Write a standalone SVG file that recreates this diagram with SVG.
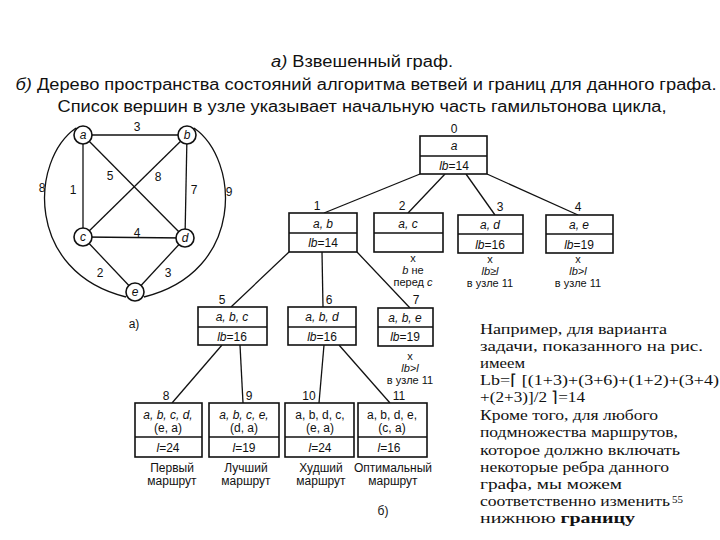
<svg xmlns="http://www.w3.org/2000/svg" width="720" height="540" viewBox="0 0 720 540">
<style>
.title{font-family:"Liberation Sans Narrow","Liberation Sans",Arial,sans-serif;font-size:16px;fill:#111}
.ln{stroke:#111;stroke-width:1.3;fill:none}
.nd{fill:#fff;stroke:#111;stroke-width:1.6}
.box{fill:#fff;stroke:#111;stroke-width:1.6}
.t{font-family:"Liberation Sans",Arial,sans-serif;font-size:12px;fill:#111;text-anchor:middle}
.it{font-style:italic}
.sm{font-family:"Liberation Sans",Arial,sans-serif;font-size:11px;fill:#111;text-anchor:middle}
.w{font-family:"Liberation Sans",Arial,sans-serif;font-size:12px;fill:#111;text-anchor:middle}
.body{font-family:"Liberation Serif","Times New Roman",serif;font-size:15px;fill:#111}
</style>
<rect width="720" height="540" fill="#fff"/>
<g id="title">
<text class="title" x="362" y="67" text-anchor="middle" textLength="182" lengthAdjust="spacingAndGlyphs"><tspan font-style="italic">а)</tspan> Взвешенный граф.</text>
<text class="title" x="366" y="90" text-anchor="middle" textLength="701" lengthAdjust="spacingAndGlyphs"><tspan font-style="italic">б)</tspan> Дерево пространства состояний алгоритма ветвей и границ для данного графа.</text>
<text class="title" x="362" y="112" text-anchor="middle" textLength="609" lengthAdjust="spacingAndGlyphs">Список вершин в узле указывает начальную часть гамильтонова цикла,</text>
</g>
<g id="graph-edges">
<line class="ln" x1="83" y1="135" x2="187" y2="135"/>
<line class="ln" x1="83" y1="135" x2="83" y2="237"/>
<line class="ln" x1="83" y1="135" x2="185" y2="238"/>
<line class="ln" x1="187" y1="135" x2="83" y2="237"/>
<line class="ln" x1="187" y1="135" x2="185" y2="238"/>
<line class="ln" x1="83" y1="237" x2="185" y2="238"/>
<line class="ln" x1="83" y1="237" x2="135" y2="292"/>
<line class="ln" x1="185" y1="238" x2="135" y2="292"/>
<path class="ln" d="M76,128 C30,160 25,272 126,297"/>
<path class="ln" d="M194,128 C240,160 245,272 144,297"/>
</g>
<g id="graph-weights" class="t">
<text x="137" y="131">3</text>
<text x="73" y="194">1</text>
<text x="110" y="180">5</text>
<text x="158" y="181">8</text>
<text x="194" y="194">7</text>
<text x="137" y="237">4</text>
<text x="100" y="277">2</text>
<text x="168" y="277">3</text>
<text x="42" y="192">8</text>
<text x="229" y="196">9</text>
</g>
<g id="va"><circle class="nd" cx="83" cy="135" r="9"/><text class="t it" x="83" y="139">a</text></g>
<g id="vb"><circle class="nd" cx="187" cy="135" r="9"/><text class="t it" x="187" y="139">b</text></g>
<g id="vc"><circle class="nd" cx="83" cy="237" r="9"/><text class="t it" x="83" y="241">c</text></g>
<g id="vd"><circle class="nd" cx="185" cy="238" r="9"/><text class="t it" x="185" y="242">d</text></g>
<g id="ve"><circle class="nd" cx="135" cy="292" r="9"/><text class="t it" x="135" y="296">e</text></g>
<text class="t" x="134" y="328">а)</text>

<g id="connectors">
<line class="ln" x1="420" y1="174" x2="324" y2="213"/>
<line class="ln" x1="445" y1="174" x2="408" y2="213"/>
<line class="ln" x1="466" y1="174" x2="495" y2="215"/>
<line class="ln" x1="487" y1="174" x2="578" y2="215"/>
<line class="ln" x1="289" y1="252" x2="231" y2="307"/>
<line class="ln" x1="322" y1="252" x2="323" y2="307"/>
<line class="ln" x1="357" y1="252" x2="410" y2="308"/>
<line class="ln" x1="222" y1="345" x2="172" y2="403"/>
<line class="ln" x1="240" y1="345" x2="243" y2="403"/>
<line class="ln" x1="324" y1="345" x2="319" y2="403"/>
<line class="ln" x1="339" y1="345" x2="390" y2="403"/>
</g>

<g id="n0"><rect class="box" x="420" y="136" width="67" height="38"/><line class="ln" x1="420" y1="156" x2="487" y2="156"/>
<text class="t" x="454" y="133">0</text><text class="t it" x="454" y="150">a</text><text class="t" x="454" y="170"><tspan font-style="italic">lb</tspan>=14</text></g>
<g id="n1"><rect class="box" x="289" y="213" width="68" height="39"/><line class="ln" x1="289" y1="233" x2="357" y2="233"/>
<text class="t" x="317" y="210">1</text><text class="t it" x="323" y="228">a, b</text><text class="t" x="323" y="247"><tspan font-style="italic">lb</tspan>=14</text></g>
<g id="n2"><rect class="box" x="374" y="213" width="69" height="39"/><line class="ln" x1="374" y1="233" x2="443" y2="233"/>
<text class="t" x="402" y="210">2</text><text class="t it" x="408" y="228">a, c</text>
<text class="sm" x="413" y="262">x</text><text class="sm" x="413" y="274"><tspan font-style="italic">b</tspan> не</text><text class="sm" x="413" y="286">перед <tspan font-style="italic">c</tspan></text></g>
<g id="n3"><rect class="box" x="458" y="215" width="65" height="38"/><line class="ln" x1="458" y1="234" x2="523" y2="234"/>
<text class="t" x="500" y="211">3</text><text class="t it" x="490" y="229">a, d</text><text class="t" x="490" y="249"><tspan font-style="italic">lb</tspan>=16</text>
<text class="sm" x="490" y="263">x</text><text class="sm it" x="490" y="275">lb≥l</text><text class="sm" x="490" y="287">в узле 11</text></g>
<g id="n4"><rect class="box" x="546" y="215" width="67" height="38"/><line class="ln" x1="546" y1="234" x2="613" y2="234"/>
<text class="t" x="578" y="211">4</text><text class="t it" x="579" y="229">a, e</text><text class="t" x="579" y="249"><tspan font-style="italic">lb</tspan>=19</text>
<text class="sm" x="578" y="263">x</text><text class="sm it" x="578" y="275">lb&gt;l</text><text class="sm" x="578" y="287">в узле 11</text></g>
<g id="n5"><rect class="box" x="198" y="307" width="69" height="38"/><line class="ln" x1="198" y1="327" x2="267" y2="327"/>
<text class="t" x="222" y="304">5</text><text class="t it" x="232" y="321">a, b, c</text><text class="t" x="232" y="341"><tspan font-style="italic">lb</tspan>=16</text></g>
<g id="n6"><rect class="box" x="288" y="307" width="68" height="38"/><line class="ln" x1="288" y1="327" x2="356" y2="327"/>
<text class="t" x="329" y="304">6</text><text class="t it" x="322" y="321">a, b, d</text><text class="t" x="322" y="341"><tspan font-style="italic">lb</tspan>=16</text></g>
<g id="n7"><rect class="box" x="378" y="308" width="55" height="38"/><line class="ln" x1="378" y1="327" x2="433" y2="327"/>
<text class="t" x="416" y="304">7</text><text class="t it" x="405" y="322">a, b, e</text><text class="t" x="405" y="341"><tspan font-style="italic">lb</tspan>=19</text>
<text class="sm" x="410" y="360">x</text><text class="sm it" x="410" y="372">lb&gt;l</text><text class="sm" x="410" y="384">в узле 11</text></g>
<g id="n8"><rect class="box" x="135" y="403" width="67" height="54"/><line class="ln" x1="135" y1="437" x2="202" y2="437"/>
<text class="t" x="166" y="400">8</text><text class="t" x="168" y="419"><tspan font-style="italic">a, b, c, d,</tspan></text><text class="t" x="168" y="432">(e, a)</text><text class="t" x="168" y="452"><tspan font-style="italic">l</tspan>=24</text>
<text class="w" x="172" y="472">Первый</text><text class="w" x="172" y="485">маршрут</text></g>
<g id="n9"><rect class="box" x="209" y="403" width="70" height="54"/><line class="ln" x1="209" y1="437" x2="279" y2="437"/>
<text class="t" x="249" y="400">9</text><text class="t it" x="244" y="419">a, b, c, e,</text><text class="t" x="244" y="432">(d, a)</text><text class="t" x="244" y="452"><tspan font-style="italic">l</tspan>=19</text>
<text class="w" x="246" y="472">Лучший</text><text class="w" x="246" y="485">маршрут</text></g>
<g id="n10"><rect class="box" x="285" y="403" width="69" height="54"/><line class="ln" x1="285" y1="437" x2="354" y2="437"/>
<text class="t" x="309" y="400">10</text><text class="t" x="320" y="419">a, b, d, c,</text><text class="t" x="320" y="432">(e, a)</text><text class="t" x="320" y="452"><tspan font-style="italic">l</tspan>=24</text>
<text class="w" x="321" y="472">Худший</text><text class="w" x="321" y="485">маршрут</text></g>
<g id="n11"><rect class="box" x="358" y="403" width="69" height="54"/><line class="ln" x1="358" y1="437" x2="427" y2="437"/>
<text class="t" x="399" y="400">11</text><text class="t" x="392" y="419">a, b, d, e,</text><text class="t" x="392" y="432">(c, a)</text><text class="t" x="389" y="452"><tspan font-style="italic">l</tspan>=16</text>
<text class="w" x="393" y="472">Оптимальный</text><text class="w" x="393" y="485">маршрут</text></g>
<text class="t" x="383" y="515">б)</text>

<g id="note" class="body">
<text x="480" y="334" textLength="187" lengthAdjust="spacingAndGlyphs">Например, для варианта</text>
<text x="480" y="351" textLength="223" lengthAdjust="spacingAndGlyphs">задачи, показанного на рис.</text>
<text x="480" y="368" textLength="45" lengthAdjust="spacingAndGlyphs">имеем</text>
<text x="480" y="385" textLength="239" lengthAdjust="spacingAndGlyphs">Lb=⌈ [(1+3)+(3+6)+(1+2)+(3+4)</text>
<text x="480" y="402" textLength="105" lengthAdjust="spacingAndGlyphs">+(2+3)]/2 ⌉=14</text>
<text x="480" y="420" textLength="178" lengthAdjust="spacingAndGlyphs">Кроме того, для любого</text>
<text x="480" y="437" textLength="198" lengthAdjust="spacingAndGlyphs">подмножества маршрутов,</text>
<text x="480" y="455" textLength="200" lengthAdjust="spacingAndGlyphs">которое должно включать</text>
<text x="480" y="472" textLength="189" lengthAdjust="spacingAndGlyphs">некоторые ребра данного</text>
<text x="480" y="489" textLength="142" lengthAdjust="spacingAndGlyphs">графа, мы можем</text>
<text x="480" y="506" textLength="190" lengthAdjust="spacingAndGlyphs">соответственно изменить</text>
<text x="480" y="523" textLength="155" lengthAdjust="spacingAndGlyphs">нижнюю <tspan font-weight="bold">границу</tspan></text>
<text x="672" y="503" font-size="11">55</text>
</g>
</svg>
